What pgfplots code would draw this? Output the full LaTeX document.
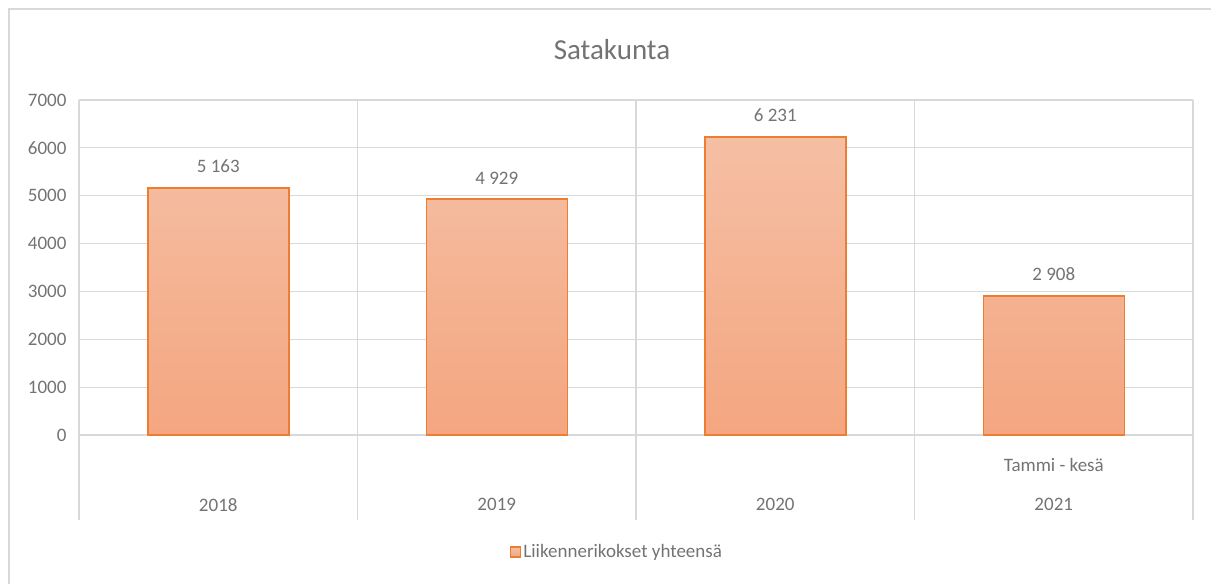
\documentclass[border=0pt]{standalone}
\usepackage{pgfplots}
\pgfplotsset{compat=1.18}
\usepackage{fontspec}
\setmainfont{Carlito}
\definecolor{txt}{HTML}{737373}
\definecolor{gridc}{HTML}{D9D9D9}
\definecolor{barline}{HTML}{ED7D31}
\definecolor{bartop}{HTML}{F5BFA4}
\definecolor{barbot}{HTML}{F4A680}
\begin{document}
\begin{tikzpicture}[x=1bp,y=1bp]
\path[use as bounding box] (0,0) rectangle (1211,584);
\draw[gridc, line width=2bp] (9,0) -- (9,575) -- (1211,575);
\node[txt, font=\fontsize{29bp}{33bp}\selectfont] at (612,534) {Satakunta};
\begin{axis}[
  at={(79bp,149bp)}, anchor=south west,
  scale only axis, width=1114bp, height=335bp,
  xmin=-0.5, xmax=3.5, ymin=0, ymax=7000,
  xtick={0,1,2,3}, xticklabels={2018,2019,2020,2021},
  ytick={0,1000,...,7000},
  ymajorgrids, grid style={gridc, line width=1.2bp},
  axis line style={draw=none}, major tick length=0,
  tick label style={txt, font=\fontsize{19bp}{23bp}\selectfont},
  /pgf/number format/assume math mode=true,
  /pgf/number format/1000 sep={},
  yticklabel style={xshift=-9bp},
  xticklabel style={yshift=-60bp},
  clip=false,
  legend style={at={(0.483,-0.349)}, anchor=center, draw=none, fill=none,
    font=\fontsize{19bp}{23bp}\selectfont, text=txt, inner sep=0pt,
    /tikz/every even column/.append style={column sep=0pt}},
  legend image code/.code={\draw[barline, line width=1.2bp, fill=barbot] (0bp,-5bp) rectangle (10bp,5bp);},
]
\pgfplotsinvokeforeach{-0.5,0.5,1.5,2.5,3.5}{
  \draw[gridc, line width=1.2bp] (axis cs:#1,7000) -- ([yshift=-85bp]axis cs:#1,0);
}
\addplot[ybar, bar width=141bp, draw=barline, line width=1.5bp,
  top color=bartop, bottom color=barbot,
  nodes near coords={\pgfmathprintnumber[assume math mode=true,1000 sep={\ }]{\pgfplotspointmeta}},
  nodes near coords style={txt, font=\fontsize{19bp}{23bp}\selectfont, yshift=11bp}
] coordinates {(0,5163) (1,4929) (2,6231) (3,2908)};
\addlegendentry{Liikennerikokset yhteensä}
\node[txt, font=\fontsize{19bp}{23bp}\selectfont] at ([yshift=-30bp]axis cs:3,0) {Tammi - kesä};
\end{axis}
\end{tikzpicture}
\end{document}
